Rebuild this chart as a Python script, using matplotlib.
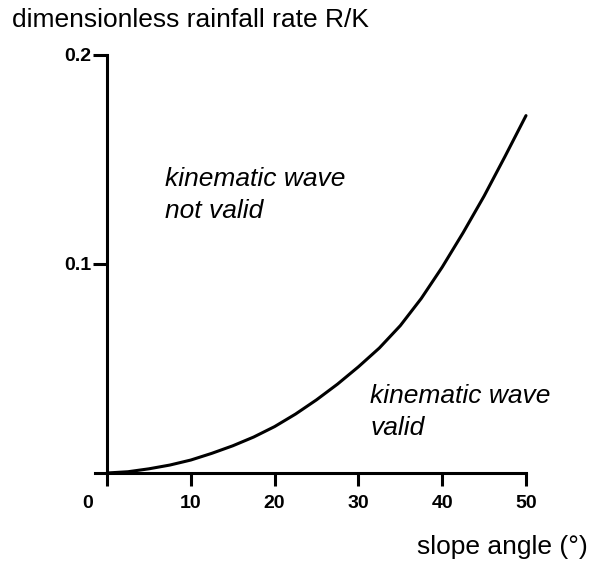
import numpy as np
import matplotlib.pyplot as plt
import matplotlib.transforms as mtransforms

# curve: slope angle (deg) vs R/K
slope = [0, 2.5, 5, 7.5, 10, 12.5, 15, 17.5, 20, 22.5, 25, 27.5, 30,
         32.5, 35, 37.5, 40, 42.5, 45, 47.5, 50]
rk = [0, 0.0006, 0.0020, 0.0038, 0.0062, 0.0094, 0.0130, 0.0172, 0.0222,
      0.0282, 0.0350, 0.0425, 0.0508, 0.0598, 0.0705, 0.0835, 0.0985, 0.1150,
      0.1325, 0.1515, 0.1710]

x_ticks = [0, 10, 20, 30, 40, 50]
y_ticks = [0.1, 0.2]

plt.rcParams['font.family'] = 'Liberation Sans'

fig = plt.figure(figsize=(5.9, 5.63), dpi=100)
ax = fig.add_axes([95 / 590, 1 - 473 / 563, (526 - 95) / 590, (473 - 55) / 563])

ax.plot(slope, rk, color="black", lw=2.2, solid_capstyle="round",
        solid_joinstyle="round", clip_on=False)

ax.set_xlim(-1.43, 50)
ax.set_ylim(0, 0.2)

for s in ["top", "right"]:
    ax.spines[s].set_visible(False)
ax.spines["left"].set_position(("data", 0))
ax.spines["left"].set_linewidth(2.2)
ax.spines["bottom"].set_linewidth(2.2)

ax.set_xticks(x_ticks)
ax.set_xticklabels([str(t) for t in x_ticks])
ax.set_yticks(y_ticks)
ax.set_yticklabels(["0.1", "0.2"])
ax.tick_params(axis="x", direction="out", length=9, width=2.2, pad=7,
               labelsize=14)
ax.tick_params(axis="y", direction="out", length=10, width=2.2, pad=1,
               labelsize=14)
for lab in ax.get_xticklabels() + ax.get_yticklabels():
    lab.set_fontweight("bold")

# the "0" label sits left of its tick
zero_lab = ax.get_xticklabels()[0]
zero_lab.set_transform(zero_lab.get_transform() +
                       mtransforms.ScaledTranslation(-19 / 100, 0, fig.dpi_scale_trans))

# va="baseline" lines up the last line here
ax.text(6.92, 0.122, "kinematic wave\nnot valid", fontsize=19, style="italic",
        ha="left", va="baseline", linespacing=1.42)
ax.text(31.4, 0.0182, "kinematic wave\nvalid", fontsize=19, style="italic",
        ha="left", va="baseline", linespacing=1.42)

fig.text(12 / 590, 1 - 27 / 563, "dimensionless rainfall rate R/K", fontsize=19,
         ha="left", va="baseline")
fig.text(417 / 590, 1 - 554 / 563, "slope angle (°)", fontsize=19,
         ha="left", va="baseline")

fig.savefig("out.png", dpi=100)
